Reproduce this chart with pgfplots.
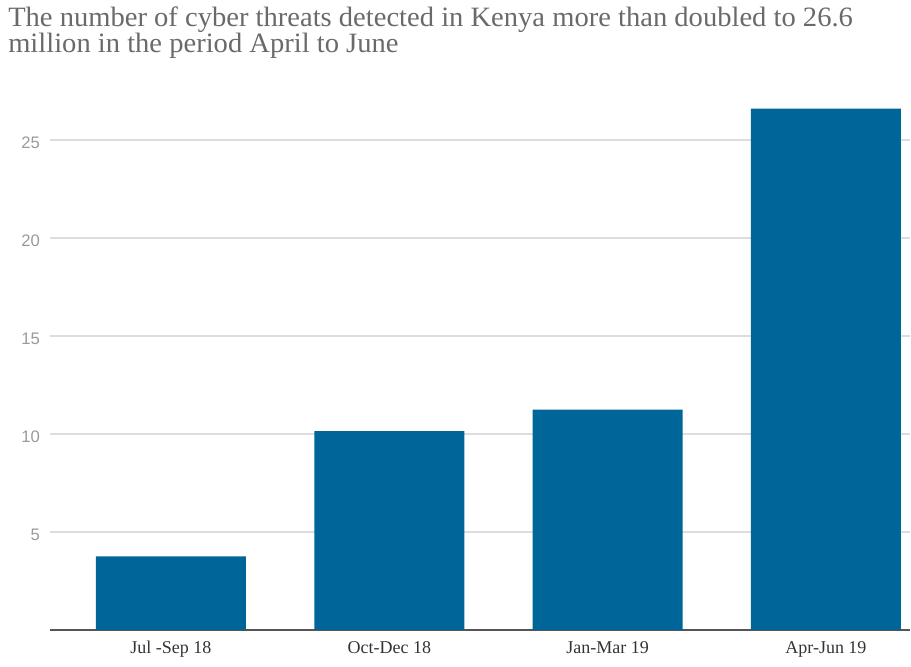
\documentclass[border=0pt]{standalone}
\usepackage{pgfplots}
\pgfplotsset{compat=1.18}
\usepackage{fontspec}
\setmainfont{Liberation Serif}
\newfontfamily\titlefont[FakeStretch=1.02]{Liberation Serif}
\newfontfamily\xlabfont{Liberation Serif}
\newfontfamily\ylabfont{Liberation Sans}
\definecolor{barblue}{HTML}{006699}
\definecolor{titlegray}{HTML}{6A6A6A}
\definecolor{tickgray}{HTML}{9A9A9A}
\definecolor{gridgray}{HTML}{DDDDDD}
\definecolor{axisgray}{HTML}{555555}
\begin{document}
\begin{tikzpicture}
\path[use as bounding box] (0pt,0pt) rectangle (683.25pt,500.25pt);
\node[anchor=base west, inner sep=0pt, align=left, text=titlegray, font=\titlefont\fontsize{21}{18.75}\selectfont] at (6pt,460.5pt) {The number of cyber threats detected in Kenya more than doubled to 26.6\\million in the period April to June};
\begin{axis}[
  at={(37.5pt,27.75pt)}, anchor=south west,
  scale only axis,
  width=645pt, height=396.9pt,
  xmin=-0.554, xmax=3.385,
  ymin=0, ymax=27,
  axis x line*=bottom, axis y line*=left,
  y axis line style={draw=none},
  x axis line style={axisgray, line width=1.1pt, -},
  xtick=data,
  xticklabels={Jul -Sep 18, Oct-Dec 18, Jan-Mar 19, Apr-Jun 19},
  xtick style={draw=none},
  xticklabel style={font=\xlabfont\fontsize{13.5}{15}\selectfont, text=black!80, yshift=-5pt},
  ytick={5,10,15,20,25},
  ymajorgrids,
  major grid style={gridgray, line width=0.8pt},
  ytick style={draw=none},
  yticklabel style={font=\ylabfont\fontsize{12.5}{14}\selectfont, text=tickgray, xshift=-4pt, yshift=-2pt},
  yticklabels={5,10,15,20,25},
  /pgf/number format/assume math mode=true,
  clip=false,
]
\addplot[ybar, bar width=112.5pt, fill=barblue, draw=none] coordinates {(0,3.75) (1,10.15) (2,11.24) (3,26.6)};
\end{axis}
\end{tikzpicture}
\end{document}
